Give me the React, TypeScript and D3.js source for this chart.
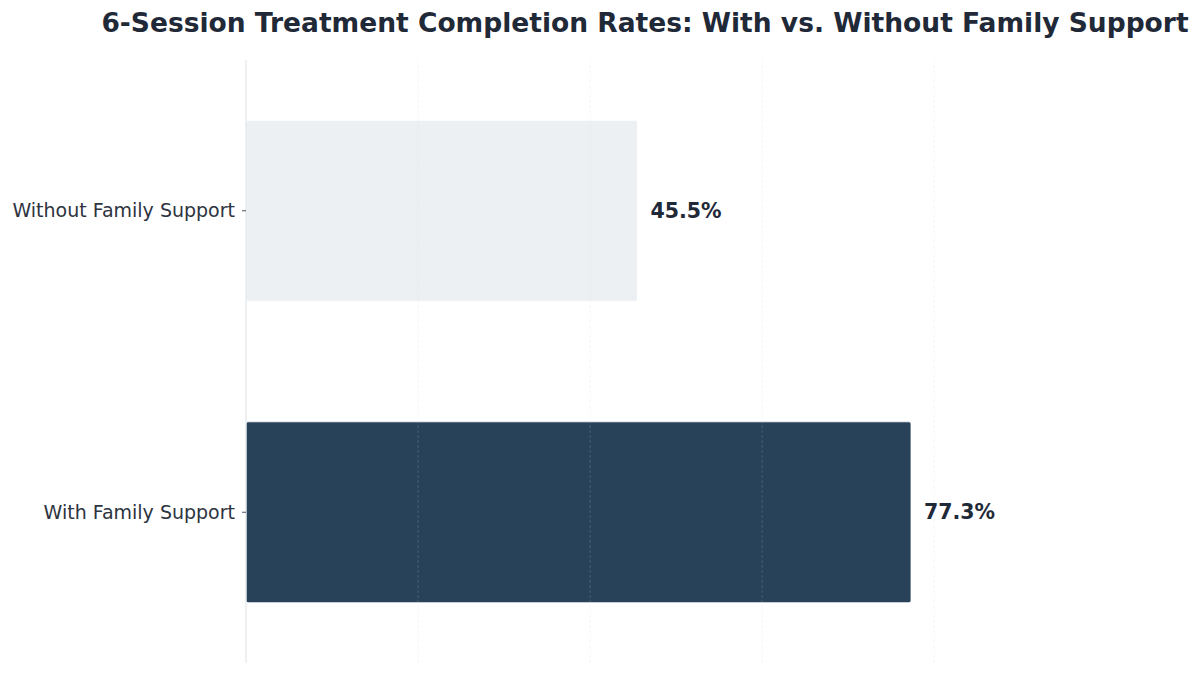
import { useEffect, useRef } from "react";
import * as d3 from "d3";

const categories = ["With Family Support", "Without Family Support"];
const completionRates = [77.3, 45.5];
const barColors = ["#284259", "#edf0f3"];
const gridTicks = [0, 20, 40, 60, 80, 100];

const TITLE = "6-Session Treatment Completion Rates: With vs. Without Family Support";

export default function App() {
  const svgRef = useRef<SVGSVGElement>(null);

  useEffect(() => {
    document.body.style.margin = "0";
    if (!svgRef.current) return;

    const width = 1200;
    const height = 674;
    const margin = { top: 60, right: 156, bottom: 11, left: 246 };
    const innerW = width - margin.left - margin.right;
    const innerH = height - margin.top - margin.bottom;

    const svg = d3.select(svgRef.current);
    svg.selectAll("*").remove();
    svg.attr("width", width).attr("height", height);

    const maxVal = d3.max(completionRates) ?? 100;
    const x = d3.scaleLinear().domain([0, maxVal * 1.2]).range([0, innerW]);
    // first category sits at the bottom, like matplotlib barh
    const y = d3
      .scaleBand<string>()
      .domain([...categories].reverse())
      .range([0, innerH])
      .paddingInner(0.4)
      .paddingOuter(0.2);

    const g = svg
      .append("g")
      .attr("transform", `translate(${margin.left},${margin.top})`);

    // bars
    g.selectAll(".bar")
      .data(categories)
      .enter()
      .append("rect")
      .attr("class", "bar")
      .attr("x", 0)
      .attr("y", (d) => y(d) ?? 0)
      .attr("width", (_d, i) => x(completionRates[i]))
      .attr("height", y.bandwidth())
      .attr("rx", 2)
      .attr("fill", (_d, i) => barColors[i])
      .attr("stroke", "#ffffff")
      .attr("stroke-width", 0.8);

    // dashed vertical grid, drawn over the bars
    g.selectAll(".grid")
      .data(gridTicks.filter((t) => t > 0 && t <= x.domain()[1]))
      .enter()
      .append("line")
      .attr("class", "grid")
      .attr("x1", (d) => x(d))
      .attr("x2", (d) => x(d))
      .attr("y1", 0)
      .attr("y2", innerH)
      .attr("stroke", "#c8d4e0")
      .attr("stroke-opacity", 0.2)
      .attr("stroke-width", 1)
      .attr("stroke-dasharray", "3,2");

    // left spine
    g.append("line")
      .attr("x1", 0)
      .attr("x2", 0)
      .attr("y1", 0)
      .attr("y2", innerH)
      .attr("stroke", "#e2e6ea")
      .attr("stroke-width", 1.2);

    // y axis ticks + labels
    const yAxis = g.append("g");
    categories.forEach((c) => {
      const cy = (y(c) ?? 0) + y.bandwidth() / 2;
      yAxis
        .append("line")
        .attr("x1", -4)
        .attr("x2", 0)
        .attr("y1", cy)
        .attr("y2", cy)
        .attr("stroke", "#4a5568")
        .attr("stroke-width", 1);
      yAxis
        .append("text")
        .attr("x", -11)
        .attr("y", cy)
        .attr("dy", "0.35em")
        .attr("text-anchor", "end")
        .style("font-family", "DejaVu Sans")
        .style("font-size", "19px")
        .attr("fill", "#2d3340")
        .text(c);
    });

    // value labels
    g.selectAll(".value")
      .data(categories)
      .enter()
      .append("text")
      .attr("class", "value")
      .attr("x", (_d, i) => x(completionRates[i]) + 13)
      .attr("y", (d) => (y(d) ?? 0) + y.bandwidth() / 2)
      .attr("dy", "0.35em")
      .style("font-family", "DejaVu Sans")
      .style("font-size", "20.5px")
      .style("font-weight", "bold")
      .attr("fill", "#1f2937")
      .text((_d, i) => `${completionRates[i].toFixed(1)}%`);

    // title
    svg
      .append("text")
      .attr("x", margin.left + innerW / 2)
      .attr("y", 32)
      .attr("text-anchor", "middle")
      .style("font-family", "DejaVu Sans")
      .style("font-size", "26.5px")
      .style("font-weight", "bold")
      .attr("fill", "#1f2937")
      .text(TITLE);
  }, []);

  return (
    <div style={{ width: 1200, height: 674, background: "#ffffff" }}>
      <svg ref={svgRef} />
    </div>
  );
}
